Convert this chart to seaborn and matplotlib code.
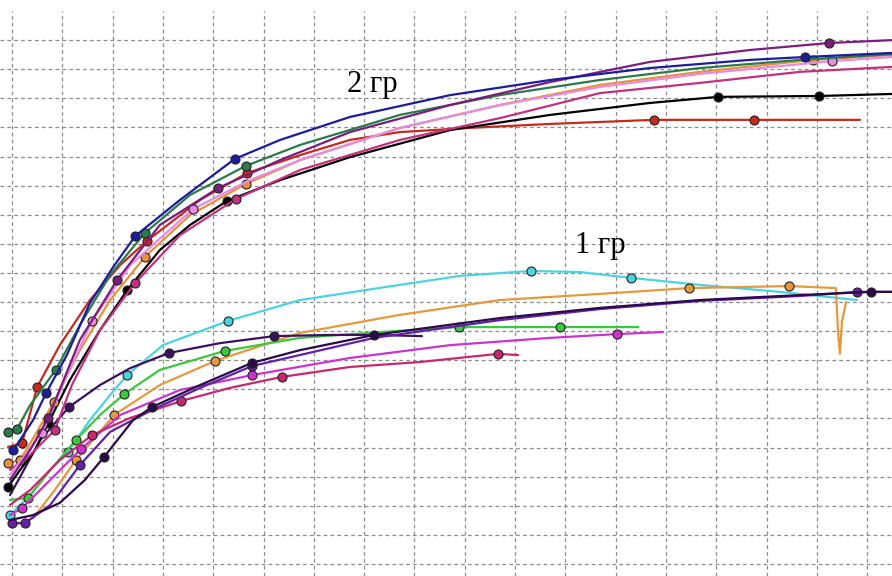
import matplotlib
matplotlib.use("Agg")
import matplotlib.pyplot as plt
import seaborn as sns
import numpy as np

# ---- readings: time t (10 per grid cell), signal v (10 per grid cell) ----
# group 2 ("2 гр")
navy_t = [0.2, 1.6, 4.2, 6.8, 10.9, 15.5, 20.1, 24.5, 33.4, 44.3, 53.3, 67.2, 87.1, 107.0, 126.8, 146.7, 157.7, 175.0]
navy_v = [39.0, 42.6, 49.5, 58.8, 71.8, 89.7, 102.0, 112.7, 125.1, 139.2, 145.7, 153.6, 161.1, 166.3, 170.4, 173.2, 174.2, 175.6]
navy_marks = [0, 3, 7, 9, 16]

green2_t = [-0.8, 1.0, 3.6, 8.7, 13.5, 19.5, 26.4, 35.4, 46.5, 57.3, 77.1, 97.0, 116.9, 136.8, 156.7, 175.0]
green2_v = [45.4, 46.4, 54.6, 66.7, 82.1, 99.3, 113.7, 126.8, 136.8, 144.0, 154.3, 161.1, 166.3, 170.4, 173.2, 175.2]
green2_marks = [0, 1, 3, 6, 8]

red2_t = [-0.8, 2.0, 5.0, 9.5, 15.5, 21.5, 26.8, 37.4, 46.7, 57.3, 67.2, 77.1, 90.5, 107.0, 127.6, 147.5, 168.6]
red2_v = [40.2, 41.6, 60.8, 75.2, 90.7, 102.7, 111.0, 125.1, 134.3, 140.5, 145.7, 148.4, 149.8, 151.2, 152.6, 152.6, 152.6]
red2_marks = [1, 2, 6, 8, 14, 15]

rose2_t = [-0.4, 3.6, 8.5, 11.9, 17.5, 24.5, 33.4, 44.5, 57.3, 77.1, 97.0, 116.9, 136.8, 156.7, 175.0]
rose2_v = [32.3, 37.5, 46.0, 61.5, 80.4, 96.6, 113.0, 125.4, 135.4, 145.7, 153.2, 161.8, 165.3, 169.1, 170.8]
rose2_marks = [2, 5, 7]

black2_t = [-0.8, 1.6, 4.6, 7.2, 11.5, 17.5, 22.9, 29.4, 35.4, 42.7, 53.3, 67.2, 87.1, 107.0, 126.8, 140.4, 160.4, 175.0]
black2_v = [26.5, 32.3, 39.2, 48.4, 63.2, 80.4, 94.1, 107.9, 116.5, 124.7, 131.9, 139.8, 149.1, 154.3, 158.4, 160.5, 160.8, 161.5]
black2_marks = [0, 3, 6, 9, 15, 16]

orange2_t = [-0.8, 1.6, 4.6, 8.3, 13.5, 19.5, 26.4, 35.4, 46.5, 57.3, 77.1, 97.0, 116.9, 136.8, 159.2, 175.0]
orange2_v = [34.7, 35.7, 44.3, 55.7, 73.5, 90.7, 105.5, 119.9, 130.6, 138.8, 149.8, 157.7, 164.6, 169.1, 173.2, 174.9]
orange2_marks = [0, 1, 3, 6, 8, 14]

plum2_t = [-0.4, 2.6, 6.0, 10.5, 15.9, 23.5, 36.0, 47.3, 57.3, 77.1, 97.0, 116.9, 136.8, 163.0, 175.0]
plum2_v = [30.6, 37.5, 45.0, 63.2, 83.5, 102.7, 122.0, 131.9, 138.8, 149.8, 157.7, 163.9, 168.4, 172.8, 174.2]
plum2_marks = [2, 4, 6, 13]

purple2_t = [-0.4, 3.6, 7.2, 13.5, 20.9, 29.4, 41.0, 53.3, 67.2, 87.1, 107.0, 126.8, 146.7, 162.4, 175.0]
purple2_v = [28.9, 39.2, 50.2, 77.0, 97.6, 116.5, 129.2, 138.8, 148.4, 157.7, 165.6, 172.5, 176.6, 179.0, 180.0]
purple2_marks = [2, 4, 6, 13]

# group 1 ("1 гр")
cyan1_t = [-0.4, 3.6, 7.6, 11.1, 15.5, 19.5, 22.9, 30.0, 42.9, 57.3, 77.1, 89.1, 103.2, 112.9, 123.1, 136.8, 152.7, 168.0]
cyan1_v = [16.8, 23.7, 32.3, 38.5, 49.5, 58.1, 64.9, 75.2, 83.5, 90.7, 95.9, 99.0, 100.7, 100.3, 98.3, 95.9, 93.5, 90.7]
cyan1_marks = [0, 3, 6, 8, 12, 14]

orange1_t = [0.6, 4.2, 8.5, 12.7, 20.3, 29.4, 40.4, 57.3, 77.1, 97.0, 116.9, 134.6, 154.5, 163.8, 164.2, 164.6, 165.0, 165.8]
orange1_v = [13.4, 15.8, 25.4, 35.7, 51.2, 61.5, 69.8, 79.4, 85.6, 90.7, 92.8, 94.8, 95.5, 94.8, 80.4, 72.2, 83.2, 90.0]
orange1_marks = [3, 4, 6, 11, 12]

green1_t = [-0.4, 3.2, 7.6, 12.7, 17.5, 22.3, 29.4, 42.3, 57.3, 73.2, 88.9, 108.9, 124.5]
green1_v = [22.0, 22.7, 32.3, 42.6, 51.2, 58.4, 66.7, 73.2, 77.7, 79.7, 81.4, 81.4, 81.4]
green1_marks = [1, 3, 5, 7, 10, 11]

magenta1_t = [-0.4, 2.0, 7.6, 13.7, 21.5, 33.4, 47.7, 67.2, 87.1, 107.0, 120.3, 129.4]
magenta1_v = [16.8, 19.2, 28.9, 39.5, 51.2, 59.8, 64.9, 70.8, 75.2, 77.7, 79.0, 79.7]
magenta1_marks = [1, 3, 6, 10]

rose1_t = [-0.4, 3.6, 9.5, 15.9, 23.5, 33.6, 43.3, 53.7, 67.2, 81.1, 96.6, 100.6]
rose1_v = [20.3, 25.4, 35.7, 44.3, 50.2, 56.0, 60.5, 64.3, 67.7, 69.4, 72.2, 71.8]
rose1_marks = [3, 5, 7, 10]

indigo1_t = [-0.4, 4.2, 9.5, 14.5, 18.3, 24.1, 27.8, 37.4, 47.7, 57.3, 72.0, 97.0, 116.9, 136.8, 156.7, 170.8, 175.0]
indigo1_v = [15.1, 16.8, 21.0, 28.9, 36.8, 49.5, 53.9, 61.5, 69.1, 73.5, 78.7, 84.5, 88.0, 90.7, 92.4, 93.5, 93.5]
indigo1_marks = [4, 6, 8, 10, 15]

violet1_t = [0.0, 2.6, 7.6, 13.5, 19.5, 27.8, 37.4, 47.7, 72.0, 97.0, 116.9, 136.8, 156.7, 168.0, 175.0]
violet1_v = [14.1, 14.1, 20.3, 34.0, 45.4, 52.9, 60.5, 68.0, 77.7, 83.8, 87.6, 90.4, 92.1, 93.5, 93.5]
violet1_marks = [0, 1, 3, 7, 13]

plumdark1_t = [-0.4, 1.6, 5.6, 11.3, 17.5, 23.5, 31.2, 41.4, 52.1, 63.2, 72.0, 81.5]
plumdark1_v = [23.7, 29.9, 42.6, 53.9, 61.5, 67.3, 72.5, 75.9, 78.3, 78.7, 78.7, 78.3]
plumdark1_marks = [3, 6, 8]

curves = [
    (cyan1_t, cyan1_v, cyan1_marks, "#4cd4de"),
    (orange1_t, orange1_v, orange1_marks, "#e39a3e"),
    (green1_t, green1_v, green1_marks, "#3ec63e"),
    (magenta1_t, magenta1_v, magenta1_marks, "#cc33cc"),
    (rose1_t, rose1_v, rose1_marks, "#c8286e"),
    (plumdark1_t, plumdark1_v, plumdark1_marks, "#3b1060"),
    (violet1_t, violet1_v, violet1_marks, "#6520a8"),
    (indigo1_t, indigo1_v, indigo1_marks, "#2a0a48"),
    (red2_t, red2_v, red2_marks, "#c42a1e"),
    (black2_t, black2_v, black2_marks, "#000000"),
    (rose2_t, rose2_v, rose2_marks, "#c4307e"),
    (orange2_t, orange2_v, orange2_marks, "#e8903c"),
    (plum2_t, plum2_v, plum2_marks, "#e58be5"),
    (green2_t, green2_v, green2_marks, "#2b7a4b"),
    (purple2_t, purple2_v, purple2_marks, "#7b1e7b"),
    (navy_t, navy_v, navy_marks, "#1c1c9c"),
]

labels = ["2 гр", "1 гр"]
label_t = [66.6, 111.9]
label_v = [162.2, 106.9]

# ---- plot ----
sns.set_theme(style="white")
plt.rcParams["font.family"] = ["Liberation Serif", "DejaVu Serif"]

fig = plt.figure(figsize=(8.92, 5.76), dpi=100)
ax = fig.add_axes([0, 0, 1, 565 / 576])

for t, v, marks, col in curves:
    sns.lineplot(x=t, y=v, color=col, lw=1.6, sort=False, ax=ax,
                 marker="o", markevery=marks, markersize=6.5,
                 markerfacecolor=col, markeredgecolor="#222222",
                 markeredgewidth=0.8)

for txt, tx, ty in zip(labels, label_t, label_v):
    ax.text(tx, ty, txt, fontsize=22, color="black", ha="left", va="baseline")

ax.set_xlim(-2.39, 174.95)
ax.set_ylim(-4.12, 190.0)
ax.set_xticks(np.arange(0, 175, 10))
ax.set_yticks(np.arange(0, 181, 10))
ax.grid(True, color="#8c8c8c", linestyle=(0, (3, 2.5)), linewidth=0.9)
ax.set_axisbelow(True)
ax.tick_params(left=False, bottom=False, labelleft=False, labelbottom=False)
for s in ax.spines.values():
    s.set_visible(False)
ax.set_xlabel("")
ax.set_ylabel("")

fig.savefig("out.png", dpi=100)
